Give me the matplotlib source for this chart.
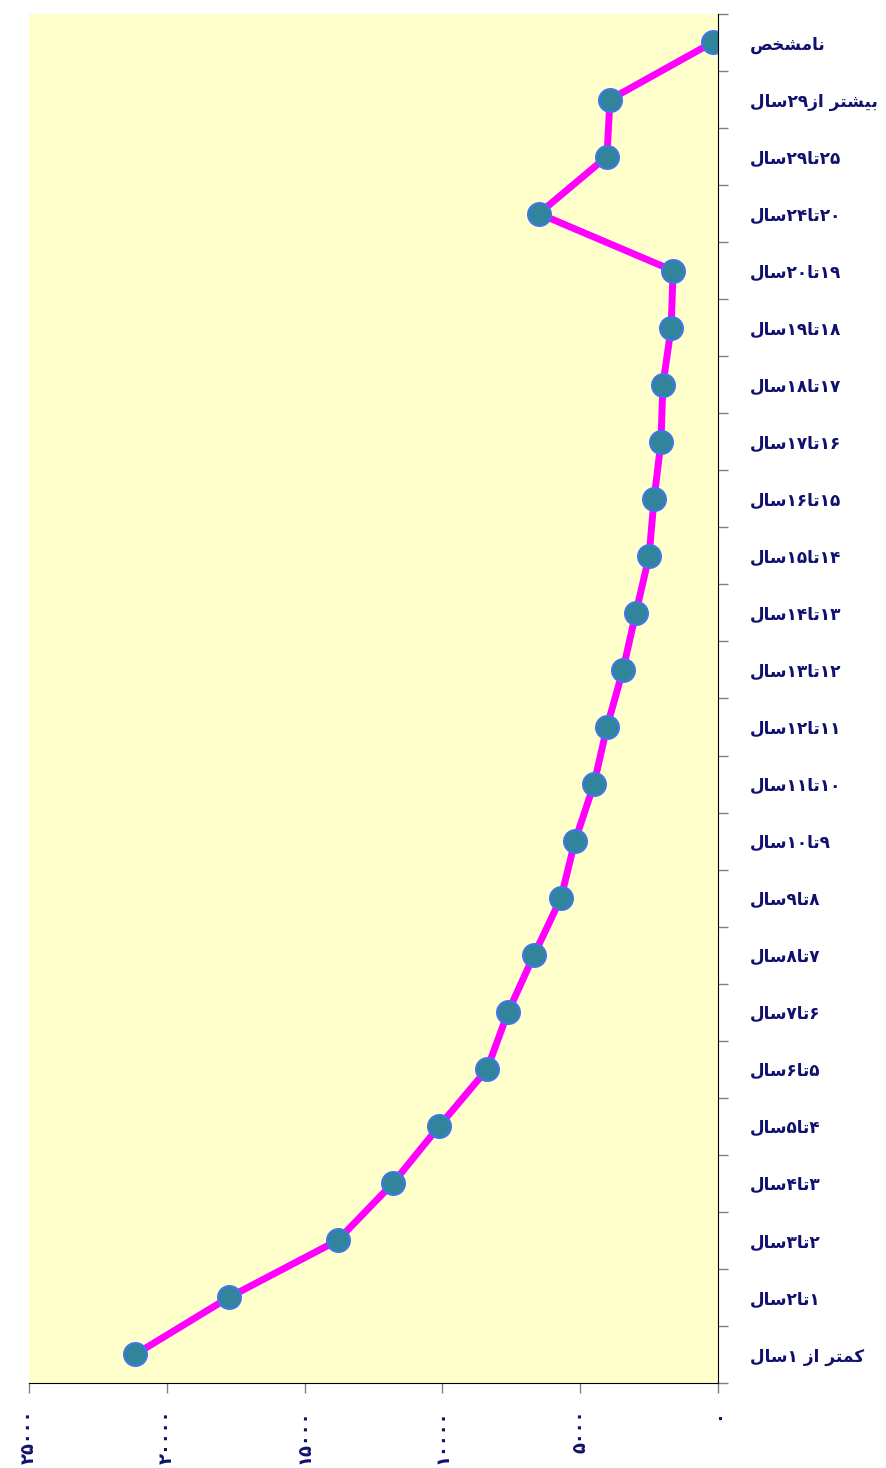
import re
import matplotlib
matplotlib.use("Agg")
import matplotlib.pyplot as plt

# age groups, bottom to top
categories = [
    "کمتر از ۱سال", "۱تا۲سال", "۲تا۳سال", "۳تا۴سال", "۴تا۵سال", "۵تا۶سال",
    "۶تا۷سال", "۷تا۸سال", "۸تا۹سال", "۹تا۱۰سال", "۱۰تا۱۱سال", "۱۱تا۱۲سال",
    "۱۲تا۱۳سال", "۱۳تا۱۴سال", "۱۴تا۱۵سال", "۱۵تا۱۶سال", "۱۶تا۱۷سال",
    "۱۷تا۱۸سال", "۱۸تا۱۹سال", "۱۹تا۲۰سال", "۲۰تا۲۴سال", "۲۵تا۲۹سال",
    "بیشتر از۲۹سال", "نامشخص",
]
values = [
    21150, 17750, 13800, 11800, 10120, 8380,
    7620, 6680, 5700, 5190, 4500, 4030,
    3450, 2980, 2500, 2320, 2070,
    2000, 1700, 1630, 6500, 4030,
    3920, 200,
]
xticks = [0, 5000, 10000, 15000, 20000, 25000]
xtick_labels = ["۰", "۵۰۰۰", "۱۰۰۰۰", "۱۵۰۰۰", "۲۰۰۰۰", "۲۵۰۰۰"]

# presentation forms: isolated, final, initial, medial
FORMS = {
    "ا": ("\uFE8D", "\uFE8E"), "ر": ("\uFEAD", "\uFEAE"), "ز": ("\uFEAF", "\uFEB0"),
    "ب": ("\uFE8F", "\uFE90", "\uFE91", "\uFE92"),
    "ت": ("\uFE95", "\uFE96", "\uFE97", "\uFE98"),
    "خ": ("\uFEA5", "\uFEA6", "\uFEA7", "\uFEA8"),
    "س": ("\uFEB1", "\uFEB2", "\uFEB3", "\uFEB4"),
    "ش": ("\uFEB5", "\uFEB6", "\uFEB7", "\uFEB8"),
    "ص": ("\uFEB9", "\uFEBA", "\uFEBB", "\uFEBC"),
    "ل": ("\uFEDD", "\uFEDE", "\uFEDF", "\uFEE0"),
    "م": ("\uFEE1", "\uFEE2", "\uFEE3", "\uFEE4"),
    "ن": ("\uFEE5", "\uFEE6", "\uFEE7", "\uFEE8"),
    "ی": ("\uFBFC", "\uFBFD", "\uFBFE", "\uFBFF"),
    "ک": ("\uFB8E", "\uFB8F", "\uFB90", "\uFB91"),
}


def shape(s):
    out = []
    for i, c in enumerate(s):
        if c not in FORMS:
            out.append(c)
            continue
        f = FORMS[c]
        prev = i > 0 and s[i - 1] in FORMS and len(FORMS[s[i - 1]]) == 4
        nxt = len(f) == 4 and i + 1 < len(s) and s[i + 1] in FORMS
        if prev and nxt:
            out.append(f[3])
        elif nxt:
            out.append(f[2])
        elif prev:
            out.append(f[1])
        else:
            out.append(f[0])
    # right-to-left order, digit runs stay left-to-right
    runs = re.findall(r"[۰-۹]+|[^۰-۹]+", "".join(out))
    return "".join(r if r[0] in "۰۱۲۳۴۵۶۷۸۹" else r[::-1] for r in runs[::-1])


navy = "#10106e"
fig = plt.figure(figsize=(8.86, 14.68), dpi=100)
ax = fig.add_axes([0.0327, 0.0579, 0.7777, 0.9326])
ax.set_facecolor("#ffffcc")

ypos = list(range(len(categories)))
ax.plot(values, ypos, color="#ff00ff", lw=5, zorder=2,
        marker="o", ms=16.5, mfc="#31849b", mec="#3f78e6", mew=1.5)

ax.set_xlim(25000, 0)
ax.set_ylim(-0.5, len(categories) - 0.5)

for s in ["top", "left"]:
    ax.spines[s].set_visible(False)
ax.spines["right"].set_color("black")
ax.spines["bottom"].set_color("black")

ax.yaxis.tick_right()
ax.set_yticks(ypos)
ax.set_yticklabels([shape(c) for c in categories], fontsize=12.2,
                   fontweight="bold", color=navy, family="DejaVu Sans")
ax.set_yticks([i - 0.5 for i in range(len(categories) + 1)], minor=True)
ax.tick_params(axis="y", which="major", length=0, pad=23)
ax.tick_params(axis="y", which="minor", length=7, color="#808080", width=1)

ax.set_xticks(xticks)
ax.set_xticklabels(xtick_labels, rotation=90, fontsize=13,
                   fontweight="bold", color=navy, family="DejaVu Sans")
ax.tick_params(axis="x", length=7, color="#808080", width=1, pad=12)

fig.savefig("out.png", dpi=100)
